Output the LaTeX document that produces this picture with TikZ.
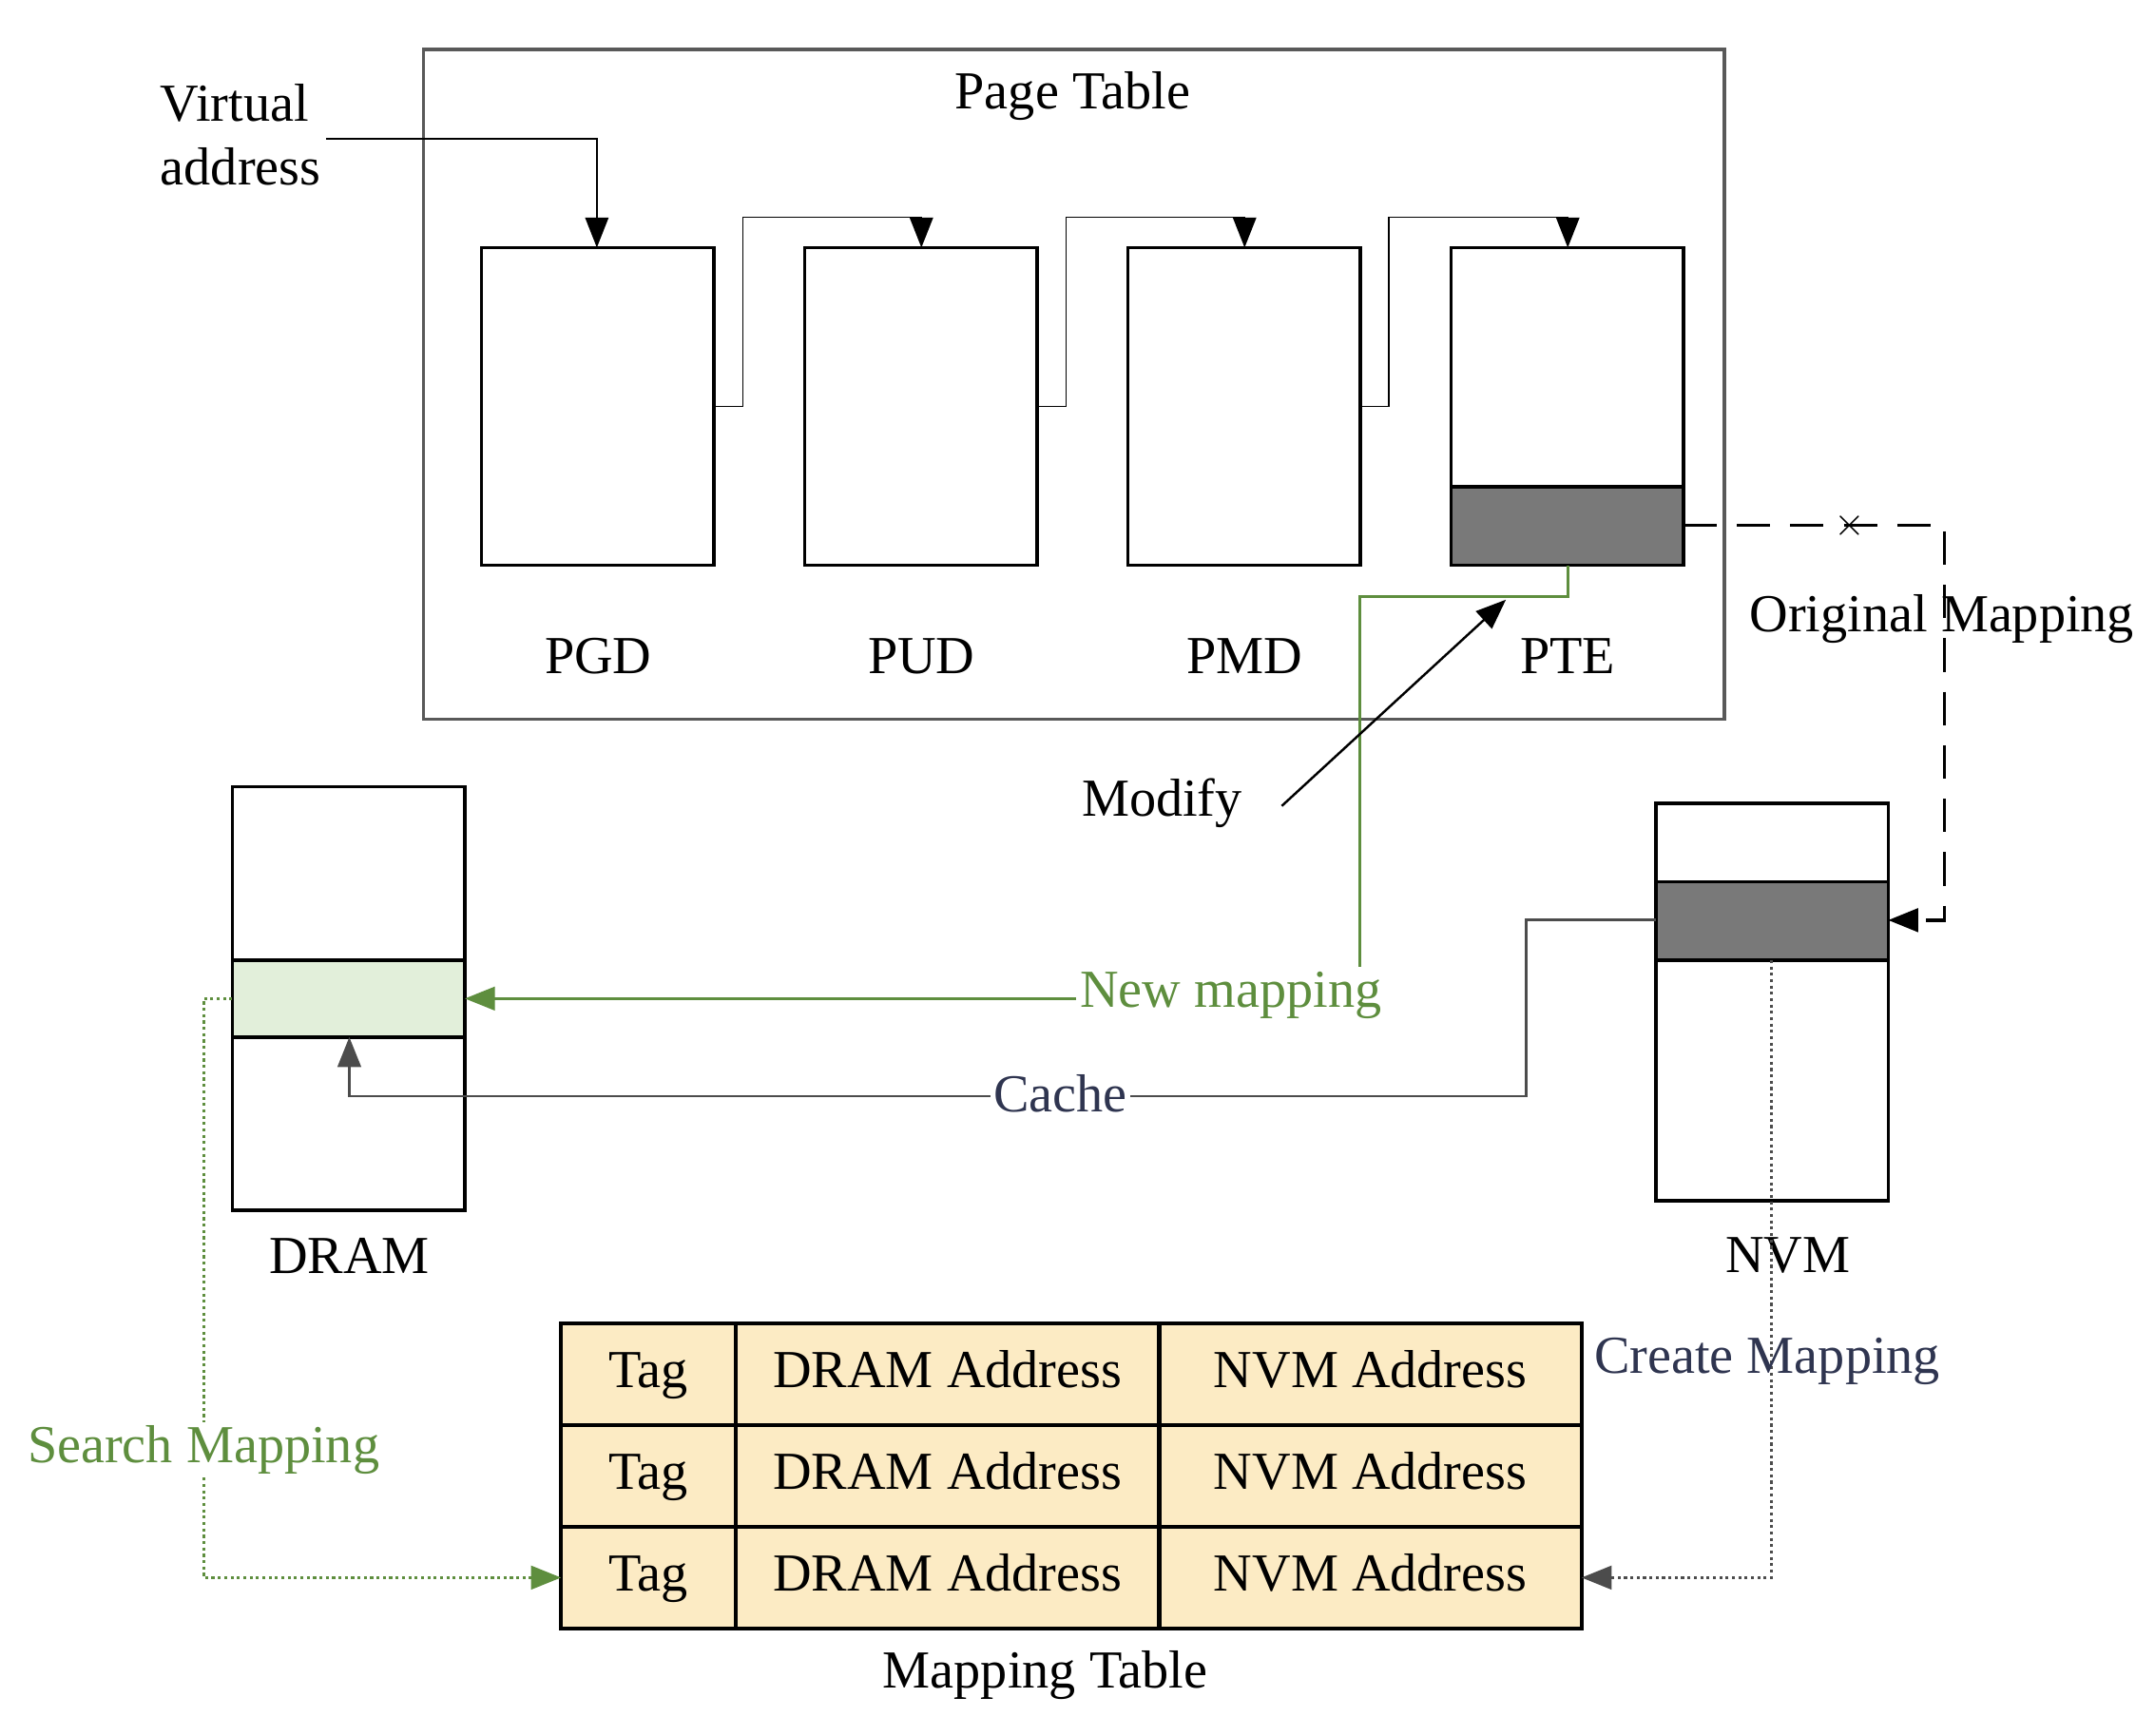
\documentclass[tikz,border=0pt]{standalone}
\usepackage{fontspec}
\setmainfont{Liberation Serif}
\usetikzlibrary{arrows.meta}
\definecolor{gr}{HTML}{5E8E3E}
\definecolor{gfill}{HTML}{E2EFDA}
\definecolor{tfill}{HTML}{FCEBC4}
\definecolor{dk}{HTML}{2F3550}
\begin{document}
\begin{tikzpicture}[x=0.014467cm,y=-0.014467cm,
  every node/.style={font=\fontsize{16}{19}\selectfont},
  box/.style={draw,line width=1pt,outer sep=0pt},
  arr/.style={-{Triangle[length=9pt,width=7pt]}},
  cell/.style={draw,line width=1.2pt,fill=tfill,outer sep=0pt,text height=11pt,text depth=3pt}]
\useasboundingbox (0,0) rectangle (1567,1262);
\draw[box,gray!70!black] (308,36) rectangle (1254,523);
\node (pt) at (780,70) {Page Table};
\foreach \n/\x in {pgd/350,pud/585,pmd/820,pte/1055}
  \node[box,minimum width=169*0.014467cm,minimum height=231*0.014467cm,anchor=north west] (\n) at (\x,180) {};
\fill[gray!95!black] (1055,354) rectangle (1224,411);
\draw[line width=1pt] (1055,354) rectangle (1224,411);
\coordinate (pteg) at (1224,382);
\node at (435,477) {PGD};
\node at (670,477) {PUD};
\node at (905,477) {PMD};
\node at (1140,477) {PTE};
\node[align=left] (va) at (175,98) {Virtual\\address};
\draw[arr] (237,101) -- (434,101) -- (434,180);
\draw[arr] (pgd.east) -- (540,295.5) -- (540,158) -- (670,158) -- (670,180);
\draw[arr] (pud.east) -- (775,295.5) -- (775,158) -- (905,158) -- (905,180);
\draw[arr] (pmd.east) -- (1010,295.5) -- (1010,158) -- (1140,158) -- (1140,180);
% NVM
\node[box,minimum width=169*0.014467cm,minimum height=289*0.014467cm,anchor=north west] (nvm) at (1204,584) {};
\fill[gray!95!black] (1204,641) rectangle (1373,698);
\draw[line width=1pt] (1204,641) rectangle (1373,698);
\coordinate (nvmg) at (1373,669);
\node at (1300,913) {NVM};
% DRAM
\node[box,minimum width=169*0.014467cm,minimum height=308*0.014467cm,anchor=north west] (dram) at (169,572) {};
\draw[line width=1pt,fill=gfill] (169,698) rectangle (338,754);
\coordinate (dramg) at (338,726);
\node at (254,913) {DRAM};
% original mapping
\draw[line width=1pt,arr,dash pattern=on 10pt off 6pt] (pteg) -- (1414,382) -- (1414,669) -- (nvmg);
\node at (1345,382) {\fontsize{12}{12}\selectfont$\times$};
\node (om) at (1412,450) {Original Mapping};
% new mapping
\node[text=gr,inner sep=1pt] (nm) at (895,724) {New mapping};
\draw[gr,line width=0.8pt] (1140,411) -- (1140,434) -- (989,434) -- (989,703);
\draw[gr,arr,line width=0.8pt] (nm.west |- dramg) -- (dramg);
% modify
\node (mod) at (845,584) {Modify};
\draw[arr,line width=0.7pt] (932,586) -- (1095,436);
% cache
\draw[gray!60!black,arr,line width=0.8pt] (1204,669) -- (1110,669) -- (1110,797) -- (254,797) -- (254,754);
\node[text=dk,fill=white,inner sep=1pt] (cache) at (771,795) {Cache};
% mapping table
\foreach \r/\y in {1/962,2/1036,3/1110}{
  \node[cell,minimum width=127*0.014467cm,minimum height=74*0.014467cm,anchor=north west] (t\r) at (408,\y) {Tag};
  \node[cell,minimum width=308*0.014467cm,minimum height=74*0.014467cm,anchor=north west] (d\r) at (535,\y) {DRAM Address};
  \node[cell,minimum width=307*0.014467cm,minimum height=74*0.014467cm,anchor=north west] (n\r) at (843,\y) {NVM Address};
}
\node at (760,1218) {Mapping Table};
% search mapping
\draw[gr,densely dotted,line width=0.9pt,arr] (169,726) -- (148,726) -- (148,1147) -- (t3.west);
\node[text=gr,fill=white,inner sep=1pt] at (148,1054) {Search Mapping};
% create mapping
\draw[black!70,densely dotted,line width=0.9pt,arr] (1288,698) -- (1288,1147) -- (n3.east);
\node[text=dk] at (1285,990) {Create Mapping};
\end{tikzpicture}
\end{document}
